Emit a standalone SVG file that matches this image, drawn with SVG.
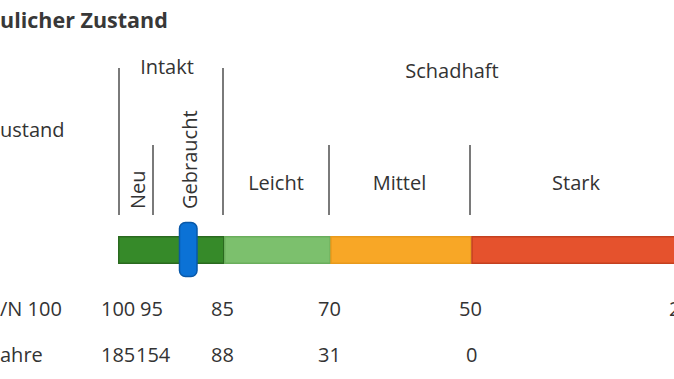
<svg xmlns="http://www.w3.org/2000/svg" width="674" height="379" viewBox="0 0 674 379">
<style>
.t{font-family:"Open Sans","Noto Sans",sans-serif;font-size:20px;fill:#333;}
.title{font-family:"Open Sans","Noto Sans",sans-serif;font-size:21.5px;font-weight:bold;fill:#383838;}
.m{text-anchor:middle;}
.sep{stroke:#7a7a7a;stroke-width:2;fill:none;}
.seg{stroke-width:1.5;}
</style>
<rect width="674" height="379" fill="#fff"/>
<text id="title" class="title" x="0" y="28">ulicher Zustand</text>

<g id="labels">
<text class="t m" x="167" y="74">Intakt</text>
<text class="t m" x="452" y="78">Schadhaft</text>
<text class="t" x="0" y="137">ustand</text>
<text class="t" transform="translate(145,209) rotate(-90)">Neu</text>
<text class="t" transform="translate(197,209) rotate(-90)">Gebraucht</text>
<text class="t m" x="276" y="190">Leicht</text>
<text class="t m" x="399.5" y="190">Mittel</text>
<text class="t m" x="576" y="190">Stark</text>
</g>

<g id="connectors">
<line class="sep" x1="119" y1="68" x2="119" y2="215"/>
<line class="sep" x1="153" y1="145" x2="153" y2="215"/>
<line class="sep" x1="223" y1="68" x2="223" y2="215"/>
<line class="sep" x1="329" y1="145" x2="329" y2="215"/>
<line class="sep" x1="470" y1="145" x2="470" y2="215"/>
</g>

<g id="bar">
<rect class="seg" x="118.75" y="236.75" width="105" height="26.5" fill="#368a29" stroke="#2a6a1f"/>
<rect class="seg" x="224.75" y="236.75" width="105.5" height="26.5" fill="#7cc06d" stroke="#6aae5c"/>
<rect class="seg" x="331" y="236.75" width="140" height="26.5" fill="#f8a726" stroke="#e99a1c"/>
<rect class="seg" x="472" y="236.75" width="210" height="26.5" fill="#e5522d" stroke="#c4401f"/>
</g>

<g id="marker">
<rect x="179.5" y="222.5" width="17.5" height="54" rx="6" fill="#0b72d6" stroke="#0858a8" stroke-width="1.5"/>
</g>

<g id="values">
<text class="t" x="0" y="316">/N 100</text>
<text class="t" x="101" y="316">100</text>
<text class="t" x="140" y="316">95</text>
<text class="t" x="211" y="316">85</text>
<text class="t" x="318" y="316">70</text>
<text class="t" x="459" y="316">50</text>
<text class="t" x="669" y="316">2</text>
<text class="t" x="0" y="362">ahre</text>
<text class="t" x="101" y="362">185</text>
<text class="t" x="136" y="362">154</text>
<text class="t" x="211" y="362">88</text>
<text class="t" x="318" y="362">31</text>
<text class="t" x="466" y="362">0</text>
</g>
</svg>
